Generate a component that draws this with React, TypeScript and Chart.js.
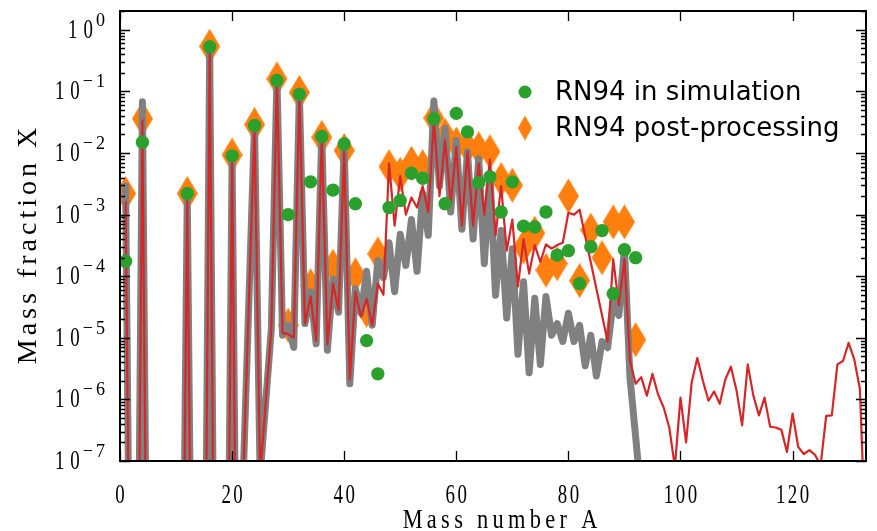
import React, { useEffect, useRef } from 'react';
import { Chart, registerables } from 'chart.js';

Chart.register(...registerables);

// ---------------- data ----------------
const grayA = [1, 2, 3, 4, 5, 6, 7, 8, 9, 10, 11, 12, 13, 14, 15, 16, 17, 18, 19, 20, 21, 22, 24, 25, 27, 28, 29, 30, 31, 32, 33, 34, 35, 36, 37, 38, 39, 40, 41, 42, 43, 44, 45, 46, 47, 48, 49, 50, 51, 52, 53, 54, 55, 56, 57, 58, 59, 60, 61, 62, 63, 64, 65, 66, 67, 68, 69, 70, 71, 72, 73, 74, 75, 76, 77, 78, 79, 80, 81, 82, 83, 84, 85, 86, 87, 88, 89, 90, 91, 92, 93];
const grayX = [2.9e-3, 1e-12, 1e-12, 6.8e-2, 1e-12, 1e-12, 1e-12, 1e-12, 1e-12, 1e-12, 1e-12, 2.1e-3, 1e-12, 1e-12, 1e-12, 0.52, 1e-12, 1e-12, 1e-12, 8.5e-3, 1e-12, 6e-8, 2.9e-2, 5.8e-8, 1.4e-5, 0.17, 1.1e-5, 1.6e-5, 7e-6, 9.5e-2, 1.7e-5, 5.6e-5, 8e-6, 2e-2, 6.3e-6, 8.9e-5, 2.6e-5, 1.3e-2, 1.8e-6, 6.3e-5, 2.5e-5, 1.2e-4, 1.6e-5, 1.8e-4, 9.5e-5, 3.5e-4, 5.6e-5, 4.8e-4, 1.5e-4, 8.3e-4, 1.2e-4, 2.2e-3, 4.6e-4, 7e-2, 2.9e-3, 2.5e-2, 1.1e-3, 1.6e-2, 5.8e-4, 1.05e-2, 4e-4, 8.1e-3, 1.6e-4, 4.7e-3, 4.9e-5, 5.5e-4, 2.1e-5, 2.8e-4, 5.4e-6, 8.1e-5, 2.7e-6, 4.4e-5, 3.7e-6, 4.7e-5, 1.1e-5, 1.7e-5, 8.7e-6, 2.5e-5, 8.7e-6, 1.6e-5, 3.5e-6, 1.1e-5, 2.4e-6, 8.7e-6, 6.9e-6, 3.9e-5, 2.3e-5, 2.8e-4, 2.2e-6, 2.5e-7, 2.5e-8];

const redA = [1, 2, 3, 4, 5, 6, 7, 8, 9, 10, 11, 12, 13, 14, 15, 16, 17, 18, 19, 20, 21, 22, 24, 25, 27, 28, 29, 30, 31, 32, 33, 34, 35, 36, 37, 38, 39, 40, 41, 42, 43, 44, 45, 46, 47, 48, 49, 50, 51, 52, 53, 54, 55, 56, 57, 58, 59, 60, 61, 62, 63, 64, 65, 66, 67, 68, 69, 70, 71, 72, 73, 74, 75, 76, 77, 78, 79, 80, 81, 82, 87, 88, 89, 90, 91, 92, 93, 94, 95, 96, 97, 98, 99, 100, 101, 102, 103, 104, 105, 106, 107, 108, 109, 110, 111, 112, 113, 114, 115, 116, 117, 118, 119, 120, 121, 122, 123, 124, 125, 126, 127, 128, 129, 130, 131, 132, 133];
const redX = [1.6e-3, 1e-12, 1e-12, 3.4e-2, 1e-12, 1e-12, 1e-12, 1e-12, 1e-12, 1e-12, 1e-12, 2.1e-3, 1e-12, 1e-12, 1e-12, 0.5, 1e-12, 1e-12, 1e-12, 8.5e-3, 1e-12, 6e-8, 2.8e-2, 5.8e-8, 1.4e-5, 0.16, 1.2e-5, 1.15e-5, 1e-5, 9.1e-2, 1.7e-5, 4.7e-5, 8.9e-6, 1.9e-2, 7.8e-6, 7.6e-5, 2.8e-5, 1.1e-2, 2.1e-6, 5.6e-5, 2.2e-5, 4.3e-5, 1.6e-5, 7.6e-5, 5e-5, 6.8e-3, 6.6e-4, 4.2e-3, 1e-3, 1.9e-3, 1.3e-3, 2.9e-3, 1.1e-3, 3.4e-2, 2e-3, 1.6e-2, 1.5e-3, 1.26e-2, 6.6e-4, 1.05e-2, 6.6e-4, 6.8e-3, 1e-3, 7.8e-3, 4.6e-4, 2.9e-3, 2.6e-4, 8.3e-4, 6.8e-5, 4e-4, 1.1e-4, 3.2e-4, 1.7e-4, 3.3e-4, 2.8e-4, 3.2e-4, 3.5e-4, 1.07e-3, 1e-3, 1.2e-3, 8.7e-6, 1.9e-4, 3.4e-5, 1.9e-4, 4.2e-6, 1.8e-6, 2.3e-6, 1.15e-6, 2.6e-6, 1.2e-6, 7.4e-7, 3.5e-7, 8e-8, 1.07e-6, 2e-7, 1.9e-6, 4.7e-6, 2e-6, 9.5e-7, 1.35e-6, 8.5e-7, 2.1e-6, 3.4e-6, 1.4e-6, 3.8e-7, 3.7e-6, 1.15e-6, 5.5e-7, 1.07e-6, 3.6e-7, 3.5e-7, 3.2e-7, 1.4e-7, 5.9e-7, 1.7e-7, 1.3e-7, 1.5e-7, 1.26e-7, 8.5e-8, 5.4e-7, 5.5e-7, 3.7e-6, 4.2e-6, 8.3e-6, 4.5e-6, 1.5e-6, 6e-9];

const simA = [1, 4, 12, 16, 20, 24, 28, 30, 32, 34, 36, 38, 40, 42, 44, 46, 48, 50, 52, 54, 56, 58, 60, 62, 64, 66, 68, 70, 72, 74, 76, 78, 80, 82, 84, 86, 88, 90, 92];
const simX = [1.75e-4, 1.5e-2, 2.2e-3, 0.53, 9e-3, 2.8e-2, 0.15, 1e-3, 9e-2, 3.4e-3, 1.85e-2, 2.5e-3, 1.4e-2, 1.5e-3, 9e-6, 2.6e-6, 1.3e-3, 1.7e-3, 4.7e-3, 3.9e-3, 3.6e-2, 1.5e-3, 4.4e-2, 2.2e-2, 3.3e-3, 4.1e-3, 1.1e-3, 3.4e-3, 6.5e-4, 6.3e-4, 1.1e-3, 2.2e-4, 2.6e-4, 7.6e-5, 3e-4, 5.5e-4, 5.2e-5, 2.7e-4, 2e-4];

const postA = [1, 4, 12, 16, 20, 24, 28, 30, 32, 34, 36, 38, 40, 42, 44, 46, 48, 50, 52, 54, 56, 58, 60, 62, 64, 66, 68, 70, 72, 74, 76, 78, 80, 82, 84, 86, 88, 90, 92];
const postX = [2.2e-3, 3.6e-2, 2.2e-3, 0.54, 9.3e-3, 2.9e-2, 0.16, 1.6e-5, 9.6e-2, 7e-5, 1.8e-2, 1.45e-4, 1.1e-2, 1.05e-4, 2.8e-5, 2.3e-4, 6e-3, 4.5e-3, 6.8e-3, 6e-3, 3.7e-2, 1.95e-2, 1.4e-2, 1.26e-2, 1.17e-2, 1.05e-2, 3.7e-3, 3e-3, 3e-4, 5e-4, 1.25e-4, 1.6e-4, 2e-3, 8.5e-5, 5.6e-4, 2e-4, 7.6e-4, 7.6e-4, 9.3e-6];

const xTickValues = [0, 20, 40, 60, 80, 100, 120];
const yTickExponents = [0, -1, -2, -3, -4, -5, -6, -7];
const xTitle = 'Mass number A';
const yTitle = 'Mass fraction X';
const simLabel = 'RN94 in simulation';
const postLabel = 'RN94 post-processing';

// ---------------- helpers ----------------
const GREEN = '#2ca02c';
const ORANGE = '#ff7f0e';
const RED = '#d62728';
const GRAY = '#808080';
const SERIF = '"Liberation Serif", "Times New Roman", serif';

function makeDiamond(w: number, h: number, color: string): HTMLCanvasElement {
  const c = document.createElement('canvas');
  c.width = w;
  c.height = h;
  const g = c.getContext('2d')!;
  g.fillStyle = color;
  g.beginPath();
  g.moveTo(w / 2, 0);
  g.lineTo(w, h / 2);
  g.lineTo(w / 2, h);
  g.lineTo(0, h / 2);
  g.closePath();
  g.fill();
  return c;
}

function spacedWidth(ctx: CanvasRenderingContext2D, text: string, spacing: number, sx: number) {
  let w = 0;
  for (let i = 0; i < text.length; i++) {
    w += ctx.measureText(text[i]).width * sx;
    if (i < text.length - 1) w += spacing;
  }
  return w;
}

// draws text starting at x (left), baseline y
function drawSpaced(ctx: CanvasRenderingContext2D, text: string, x: number, y: number, spacing: number, sx: number) {
  let cx = x;
  for (let i = 0; i < text.length; i++) {
    const ch = text[i];
    ctx.save();
    ctx.translate(cx, y);
    ctx.scale(sx, 1);
    ctx.fillText(ch, 0, 0);
    ctx.restore();
    cx += ctx.measureText(ch).width * sx + spacing;
  }
  return cx;
}

const TICK_FONT = `27px ${SERIF}`;
const EXP_FONT = `19px ${SERIF}`;
const TITLE_FONT = `28px ${SERIF}`;
const TICK_SX = 0.7;
const TICK_SP = 2.5;

const axesPlugin = {
  id: 'mplAxes',
  afterDatasetsDraw(chart: any) {
    const { ctx, chartArea: a, scales } = chart;
    const xs = scales.x;
    const ys = scales.y;
    ctx.save();
    ctx.strokeStyle = '#000';
    ctx.fillStyle = '#000';
    ctx.lineCap = 'butt';

    // ticks
    ctx.lineWidth = 1.3;
    ctx.beginPath();
    for (const v of xTickValues) {
      const px = Math.round(xs.getPixelForValue(v)) + 0.5;
      ctx.moveTo(px, a.bottom);
      ctx.lineTo(px, a.bottom - 10);
      ctx.moveTo(px, a.top);
      ctx.lineTo(px, a.top + 10);
    }
    for (const e of yTickExponents) {
      const py = Math.round(ys.getPixelForValue(Math.pow(10, e))) + 0.5;
      ctx.moveTo(a.left, py);
      ctx.lineTo(a.left + 10, py);
      ctx.moveTo(a.right, py);
      ctx.lineTo(a.right - 10, py);
      for (let m = 2; m <= 9; m++) {
        const val = m * Math.pow(10, e);
        if (val > ys.max) continue;
        const pm = Math.round(ys.getPixelForValue(val)) + 0.5;
        ctx.moveTo(a.left, pm);
        ctx.lineTo(a.left + 5, pm);
        ctx.moveTo(a.right, pm);
        ctx.lineTo(a.right - 5, pm);
      }
    }
    ctx.stroke();

    // frame
    ctx.lineWidth = 2;
    ctx.strokeRect(a.left, a.top, a.right - a.left, a.bottom - a.top);

    // x tick labels
    ctx.textBaseline = 'alphabetic';
    ctx.textAlign = 'left';
    ctx.font = TICK_FONT;
    for (const v of xTickValues) {
      const px = xs.getPixelForValue(v);
      const s = String(v);
      const w = spacedWidth(ctx, s, TICK_SP, TICK_SX);
      drawSpaced(ctx, s, px - w / 2, a.bottom + 42, TICK_SP, TICK_SX);
    }

    // y tick labels 10^e
    for (const e of yTickExponents) {
      const py = ys.getPixelForValue(Math.pow(10, e));
      const exp = e === 0 ? '0' : '\u2212' + String(-e);
      ctx.font = EXP_FONT;
      const we = spacedWidth(ctx, exp, 3, 0.95);
      ctx.font = TICK_FONT;
      const wb = spacedWidth(ctx, '10', 6, TICK_SX);
      const right = a.left - 15;
      const expLeft = right - we;
      const baseLeft = expLeft - 3 - wb;
      drawSpaced(ctx, '10', baseLeft, py + 8, 6, TICK_SX);
      ctx.font = EXP_FONT;
      drawSpaced(ctx, exp, expLeft, py - 4, 3, 0.95);
    }

    // axis titles
    ctx.font = TITLE_FONT;
    const wx = spacedWidth(ctx, xTitle, 4.3, 0.8);
    drawSpaced(ctx, xTitle, 500 - wx / 2 + (a.left - 120), a.bottom + 67, 4.3, 0.8);

    ctx.save();
    ctx.translate(a.left - 84, (a.top + a.bottom) / 2 + 10);
    ctx.rotate(-Math.PI / 2);
    const wy = spacedWidth(ctx, yTitle, 4, 1);
    drawSpaced(ctx, yTitle, -wy / 2, 0, 4, 1);
    ctx.restore();

    // legend
    const lx = a.left + 405;
    const row1 = a.top + 81;
    const row2 = a.top + 117;
    ctx.fillStyle = GREEN;
    ctx.beginPath();
    ctx.arc(lx, row1, 6.5, 0, Math.PI * 2);
    ctx.fill();
    ctx.drawImage(legendDiamond, lx - legendDiamond.width / 2, row2 - legendDiamond.height / 2);
    ctx.fillStyle = '#000';
    ctx.font = '26px "DejaVu Sans", sans-serif';
    ctx.textBaseline = 'middle';
    ctx.fillText(simLabel, a.left + 435, row1 + 1);
    ctx.fillText(postLabel, a.left + 435, row2 + 1);

    ctx.restore();
  },
};

const legendDiamond = makeDiamond(14, 25, ORANGE);

export default function App() {
  const ref = useRef<HTMLCanvasElement | null>(null);

  useEffect(() => {
    if (!ref.current) return;
    const diamond = makeDiamond(21, 35, ORANGE);
    const pts = (xs: number[], ys: number[]) => xs.map((x, i) => ({ x, y: ys[i] }));
    const chart = new Chart(ref.current, {
      type: 'scatter',
      data: {
        datasets: [
          {
            label: simLabel,
            data: pts(simA, simX),
            backgroundColor: GREEN,
            borderColor: GREEN,
            borderWidth: 0,
            pointRadius: 6.7,
            pointStyle: 'circle',
            order: 0,
            clip: 0,
          },
          {
            label: 'red',
            data: pts(redA, redX),
            showLine: true,
            borderColor: RED,
            borderWidth: 2.2,
            pointRadius: 0,
            borderJoinStyle: 'round',
            borderCapStyle: 'round',
            order: 1,
            clip: 0,
          },
          {
            label: 'gray',
            data: pts(grayA, grayX),
            showLine: true,
            borderColor: GRAY,
            borderWidth: 7,
            pointRadius: 0,
            borderJoinStyle: 'round',
            borderCapStyle: 'round',
            order: 2,
            clip: 0,
          },
          {
            label: postLabel,
            data: pts(postA, postX),
            pointStyle: diamond as any,
            pointRadius: 10,
            backgroundColor: ORANGE,
            order: 3,
            clip: 0,
          },
        ] as any,
      },
      options: {
        animation: false,
        responsive: true,
        maintainAspectRatio: false,
        layout: { padding: { left: 120, right: 5, top: 6, bottom: 70 } },
        plugins: { legend: { display: false }, tooltip: { enabled: false } },
        events: [],
        scales: {
          x: { type: 'linear', min: 0, max: 133.1, display: false },
          y: { type: 'logarithmic', min: 1e-7, max: 2.02, display: false },
        },
      },
      plugins: [axesPlugin],
    });
    return () => chart.destroy();
  }, []);

  return (
    <div style={{ position: 'fixed', left: 0, top: 0, width: 877, height: 531, background: '#fff' }}>
      <canvas ref={ref} />
    </div>
  );
}
